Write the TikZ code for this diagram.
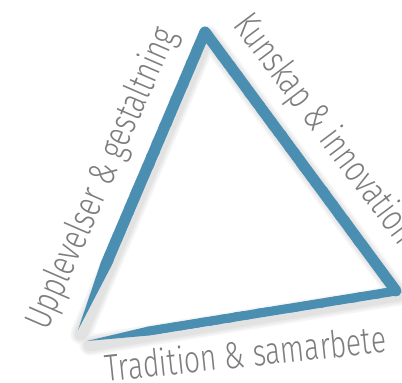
\documentclass[tikz,border=0pt]{standalone}
\usepackage{fontspec}
\usepackage{tikz}
\usetikzlibrary{calc,decorations.pathmorphing}
\newfontfamily\sidefont{Fira Sans Light}
\definecolor{brushblue}{RGB}{74,143,178}
\definecolor{textgray}{RGB}{125,125,125}
\tikzstyle{brush} = [draw=brushblue, line join=round, line cap=round]
\tikzstyle{rough} = [decorate, decoration={random steps, segment length=2.5pt, amplitude=0.7pt}]
\tikzstyle{brushshadow} = [draw=black, opacity=0.04, line join=round, line cap=round]
\tikzstyle{sidetext} = [text=textgray, font=\sidefont\fontsize{37.7}{40}\selectfont, inner sep=0pt, anchor=base]

\begin{document}
\begin{tikzpicture}[x=1pt, y=-1pt]
	\useasboundingbox (0,0) rectangle (402,383);

	% Corners of the triangle:
	\coordinate (apex) at (205,32);
	\coordinate (corner) at (396,291);
	\coordinate (leftend) at (78,330);
	\coordinate (bottomend) at (87,341);
	\coordinate (lefttaper) at ($(apex)!0.78!(leftend)$);
	\coordinate (bottomtaper) at ($(corner)!0.8!(bottomend)$);

	% Soft shadow under the strokes:
	\begin{scope}[transform canvas={shift={(3,4)}}]
		\foreach \w in {13,17,21}{%
			\draw[brushshadow, line width=\w] (leftend) -- (apex) -- (corner) -- (bottomend);
		}
	\end{scope}

	% The brush strokes:
	\draw[brush, line width=11] (lefttaper) -- (apex) -- (corner);
	\draw[brush, line width=10, rough] (lefttaper) -- (apex) -- (corner);
	\draw[brush, line width=9] (corner) -- (bottomtaper);
	\draw[brush, line width=8, rough] (corner) -- (bottomtaper);
	\fill[brushblue] ($(lefttaper)!5.5pt!90:(leftend)$) -- (leftend) -- ($(lefttaper)!5.5pt!-90:(leftend)$) -- cycle;
	\fill[brushblue] ($(bottomtaper)!4.5pt!90:(bottomend)$) -- (bottomend) -- ($(bottomtaper)!4.5pt!-90:(bottomend)$) -- cycle;

	% Labels along the sides:
	\node[sidetext, rotate=66.5, xscale=0.75] (upplevelser) at (112,183) {Upplevelser \& gestaltning};
	\node[sidetext, rotate=-53, xscale=0.75] (kunskap) at (316,136) {Kunskap \& innovation};
	\node[sidetext, rotate=6, xscale=0.75] (tradition) at (247,367) {Tradition \& samarbete};
\end{tikzpicture}
\end{document}
